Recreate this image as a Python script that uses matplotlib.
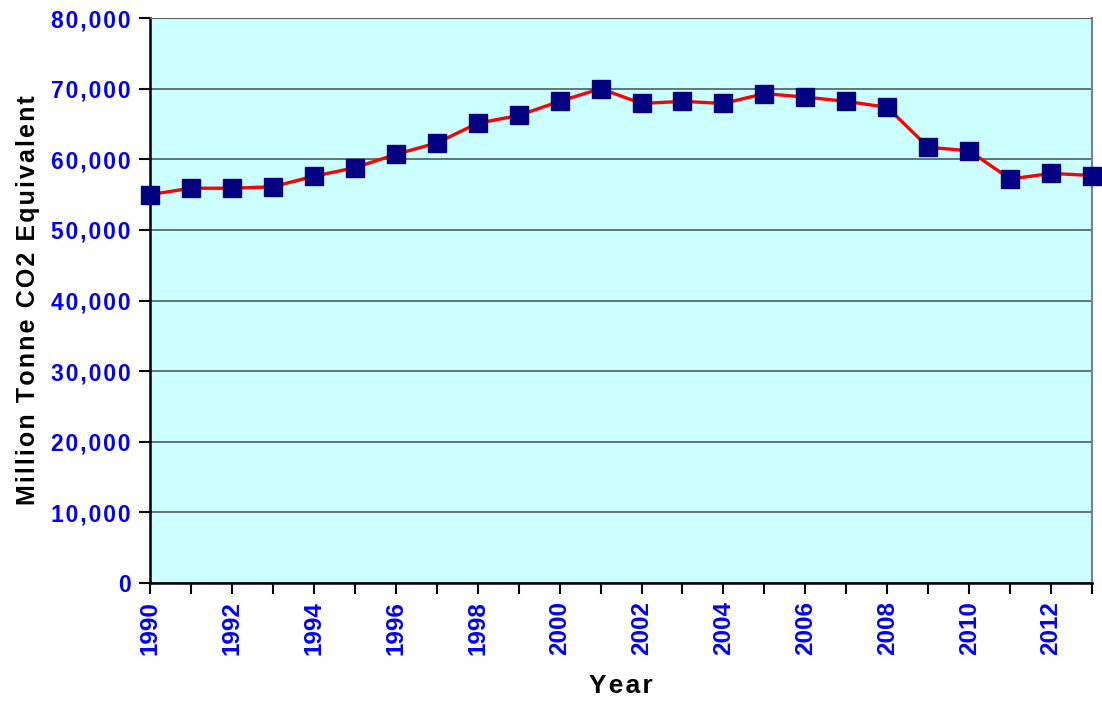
import numpy as np
import matplotlib.pyplot as plt
from matplotlib.ticker import FuncFormatter, MultipleLocator

# emissions per year
years = list(range(1990, 2014))
emissions = [55000, 55900, 55900, 56100, 57600, 58800, 60700, 62300,
             65100, 66200, 68200, 70000, 67900, 68200, 67900, 69300,
             68800, 68200, 67350, 61700, 61200, 57200, 58000, 57700]

plt.rcParams['font.family'] = ['Liberation Sans', 'DejaVu Sans']
plt.rcParams['font.weight'] = 'bold'

def spaced(s):
    # the original text is drawn with a bit of letter spacing
    return '\u200a'.join(s)

fig = plt.figure(figsize=(11.02, 7.04), dpi=100)
ax = fig.add_axes([0.1361, 0.1719, 0.8549, 0.8025])
ax.set_facecolor('#ccffff')

ax.plot(years, emissions, color='#ff0000', lw=2.4, marker='s', ms=13,
        mfc='#000080', mec='#000080', clip_on=False, zorder=3)

ax.set_xlim(1990, 2013)
ax.set_ylim(0, 80000)
ax.yaxis.set_major_locator(MultipleLocator(10000))
ax.yaxis.set_major_formatter(FuncFormatter(lambda v, p: spaced('{:,.0f}'.format(v))))
ax.xaxis.set_major_locator(MultipleLocator(2))
ax.xaxis.set_major_formatter(FuncFormatter(lambda v, p: '{:.0f}'.format(v)))
ax.xaxis.set_minor_locator(MultipleLocator(1))
ax.grid(axis='y', color='#5a6a6a', lw=1.3, zorder=1)
ax.set_axisbelow(True)

ax.tick_params(axis='both', which='both', direction='out', colors='black',
               labelcolor='#0000ff', width=1.5)
ax.tick_params(axis='y', length=8, pad=6, labelsize=16.5)
ax.tick_params(axis='x', which='major', length=8, pad=5, labelrotation=90,
               labelsize=17.5)
ax.tick_params(axis='x', which='minor', length=8)
for lab in ax.get_xticklabels() + ax.get_yticklabels():
    lab.set_fontweight('bold')

ax.spines['left'].set_linewidth(1.8)
ax.spines['bottom'].set_linewidth(1.8)
ax.spines['top'].set_color('#5a6a6a')
ax.spines['right'].set_color('#808080')
ax.spines['right'].set_linewidth(1.5)

ax.set_xlabel(spaced('Year'), fontsize=19, fontweight='bold', labelpad=14)
ax.set_ylabel(spaced('Million Tonne CO2 Equivalent'), fontsize=18,
              fontweight='bold', labelpad=8)

fig.savefig('out.png', dpi=100)
